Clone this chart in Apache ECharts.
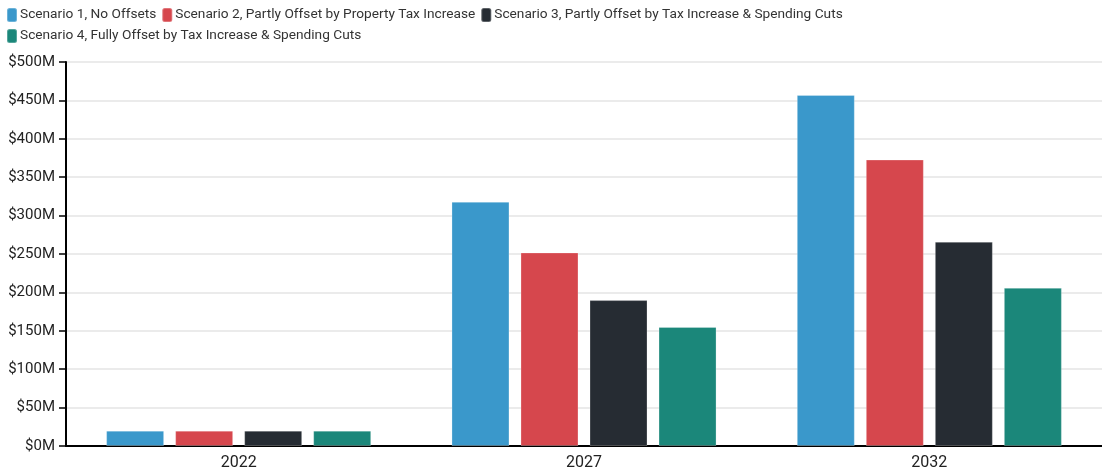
<!DOCTYPE html>
<html>
<head>
<meta charset="utf-8">
<script src="https://cdn.jsdelivr.net/npm/echarts@6/dist/echarts.min.js"></script>
<style>html,body{margin:0;padding:0;background:#fff}#c{width:1102px;height:474px}</style>
</head>
<body>
<div id="c"></div>
<script>
const categories = ['2022', '2027', '2032'];
const seriesNames = [
  'Scenario 1, No Offsets',
  'Scenario 2, Partly Offset by Property Tax Increase',
  'Scenario 3, Partly Offset by Tax Increase & Spending Cuts',
  'Scenario 4, Fully Offset by Tax Increase & Spending Cuts'
];
const scenario1 = [20, 318, 457];
const scenario2 = [20, 252, 373];
const scenario3 = [20, 190, 266];
const scenario4 = [20, 155, 206];
const colors = ['#3a98cb', '#d6474d', '#262c33', '#1b877a'];
const allData = [scenario1, scenario2, scenario3, scenario4];

const chart = echarts.init(document.getElementById('c'));
chart.setOption({
  animation: false,
  textStyle: { fontFamily: 'Roboto, sans-serif' },
  legend: {
    left: 6, top: 7, width: 900,
    itemWidth: 10, itemHeight: 14, itemGap: 5,
    icon: 'roundRect',
    textStyle: { fontSize: 13.7, color: '#333', padding: [0, 0, 0, -2] },
    padding: 0
  },
  grid: { left: 66, right: 0, top: 62, bottom: 28, containLabel: false },
  xAxis: {
    type: 'category', data: categories,
    axisLine: { lineStyle: { color: '#000', width: 2 } },
    axisTick: { alignWithLabel: true, length: 6, lineStyle: { color: '#000', width: 2 } },
    axisLabel: { fontSize: 16, color: '#222', margin: 9 }
  },
  yAxis: {
    type: 'value', min: 0, max: 500, interval: 50,
    axisLine: { show: true, lineStyle: { color: '#000', width: 2 } },
    axisTick: { show: true, length: 7, lineStyle: { color: '#000', width: 1.5 } },
    axisLabel: { fontSize: 15, color: '#222', margin: 11, formatter: v => '$' + v + 'M' },
    splitLine: { lineStyle: { color: '#ebebeb', width: 2 } }
  },
  series: allData.map((d, i) => ({
    name: seriesNames[i], type: 'bar', data: d,
    barWidth: 58, barGap: '19%',
    itemStyle: { color: colors[i], borderColor: 'rgba(255,255,255,0.25)', borderWidth: 1 }
  })),
  color: colors
});
</script>
</body>
</html>
